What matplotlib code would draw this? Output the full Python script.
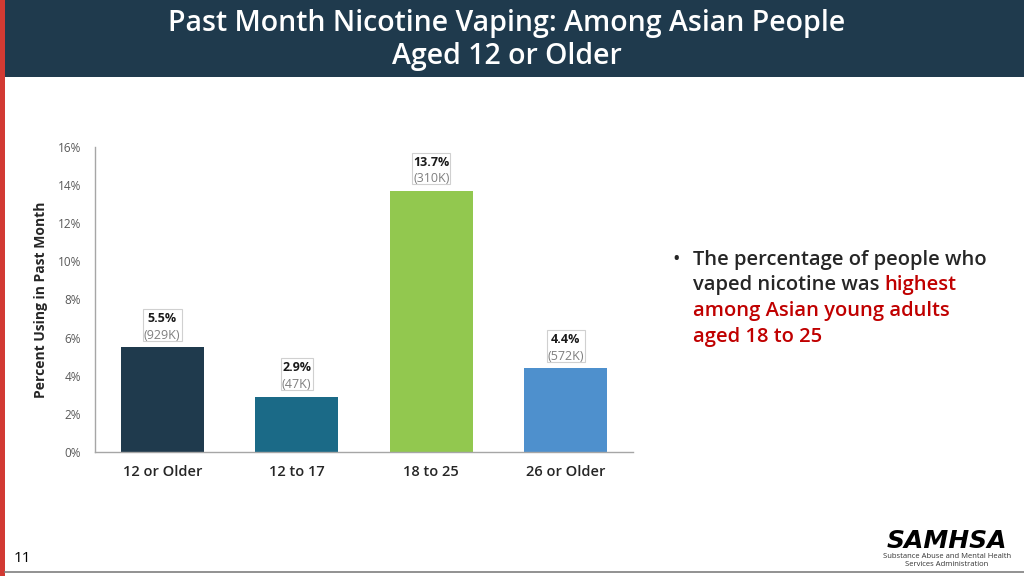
import matplotlib.pyplot as plt
from matplotlib.patches import Rectangle

plt.rcParams["font.family"] = ["Open Sans", "DejaVu Sans"]

# data
categories = ["12 or Older", "12 to 17", "18 to 25", "26 or Older"]
percents = [5.5, 2.9, 13.7, 4.4]
counts = ["929K", "47K", "310K", "572K"]
bar_colors = ["#1F3A4D", "#1B6A87", "#92C84F", "#4E90CD"]
yticks = [0, 2, 4, 6, 8, 10, 12, 14, 16]

W, H = 1024, 576
fig = plt.figure(figsize=(W / 100, H / 100), dpi=100)
fig.patch.set_facecolor("white")

# header band and red side strip
fig.add_artist(Rectangle((0.005, 1 - 77 / H), 0.995, 77 / H,
                         transform=fig.transFigure, color="#1F3A4D", lw=0))
fig.add_artist(Rectangle((0, 0), 0.005, 1, transform=fig.transFigure,
                         color="#D23A33", lw=0))
fig.text(0.495, 1 - 40 / H, "Past Month Nicotine Vaping: Among Asian People\nAged 12 or Older",
         ha="center", va="center", color="white", fontsize=20.5, fontweight="semibold",
         linespacing=1.15)

# bottom rule, slide number
fig.add_artist(plt.Line2D([0.005, 1], [1 - 572 / H] * 2, transform=fig.transFigure,
                          color="#7F7F7F", lw=1.2))
fig.text(0.013, 1 - 559 / H, "11", fontsize=11, color="black", va="center")

# chart
ax = fig.add_axes([95 / W, 1 - 452 / H, 538 / W, 305 / H])
x = list(range(len(categories)))
ax.bar(x, percents, width=0.62, color=bar_colors)
ax.set_xlim(-0.5, 3.5)
ax.set_ylim(0, 16)
ax.set_yticks(yticks)
ax.set_yticklabels([f"{t}%" for t in yticks], fontsize=8.5, color="#595959")
ax.set_xticks(x)
ax.set_xticklabels(categories, fontsize=10.5, color="#262626", fontweight="semibold")
ax.tick_params(axis="y", length=0, pad=10)
ax.tick_params(axis="x", length=0, pad=9)
for s in ["top", "right"]:
    ax.spines[s].set_visible(False)
for s in ["left", "bottom"]:
    ax.spines[s].set_color("#A6A6A6")
    ax.spines[s].set_linewidth(1)
ax.set_ylabel("Percent Using in Past Month", fontsize=10, fontweight="bold",
              color="#262626", labelpad=7)

labels = []
for xi, p, c in zip(x, percents, counts):
    t1 = ax.annotate(f"{p}%", (xi, p), xytext=(0, 16), textcoords="offset points",
                     ha="center", va="bottom", fontsize=9, fontweight="bold", color="#1A1A1A")
    t2 = ax.annotate(f"({c})", (xi, p), xytext=(0, 4), textcoords="offset points",
                     ha="center", va="bottom", fontsize=9, color="#7F7F7F")
    labels.append((t1, t2))

fig.canvas.draw()
for t1, t2 in labels:
    b1 = t1.get_window_extent()
    b2 = t2.get_window_extent()
    x0 = min(b1.x0, b2.x0) - 1
    x1 = max(b1.x1, b2.x1) + 1
    y0 = b2.y0 + 1
    y1 = b1.y1 + 3
    fig.add_artist(Rectangle((x0 / W, y0 / H), (x1 - x0) / W, (y1 - y0) / H,
                             transform=fig.transFigure, fill=False,
                             ec="#D0D0D0", lw=0.8))

# bullet text
fs = 14.5
fig.text(672 / W, 1 - 260 / H, "•", fontsize=fs, va="center", color="#262626")
lines = [
    [("The percentage of people who", "#262626")],
    [("vaped nicotine was ", "#262626"), ("highest", "#C00000")],
    [("among Asian young adults", "#C00000")],
    [("aged 18 to 25", "#C00000")],
]
ys = [260, 285, 311, 337]
for parts, y in zip(lines, ys):
    xpos = 693 / W
    for txt, col in parts:
        t = fig.text(xpos, 1 - y / H, txt, fontsize=fs, fontweight="semibold",
                     color=col, va="center")
        fig.canvas.draw()
        xpos += t.get_window_extent().width / W

# logo
fig.text(947 / W, 1 - 541 / H, "SAMHSA", ha="center", va="center", fontsize=18,
         fontweight="heavy", fontstyle="italic", color="black", family="DejaVu Sans")
fig.text(947 / W, 1 - 556 / H, "Substance Abuse and Mental Health",
         ha="center", va="center", fontsize=5.5, color="#333333")
fig.text(947 / W, 1 - 564 / H, "Services Administration",
         ha="center", va="center", fontsize=5.5, color="#333333")

fig.savefig("out.png", dpi=100)
